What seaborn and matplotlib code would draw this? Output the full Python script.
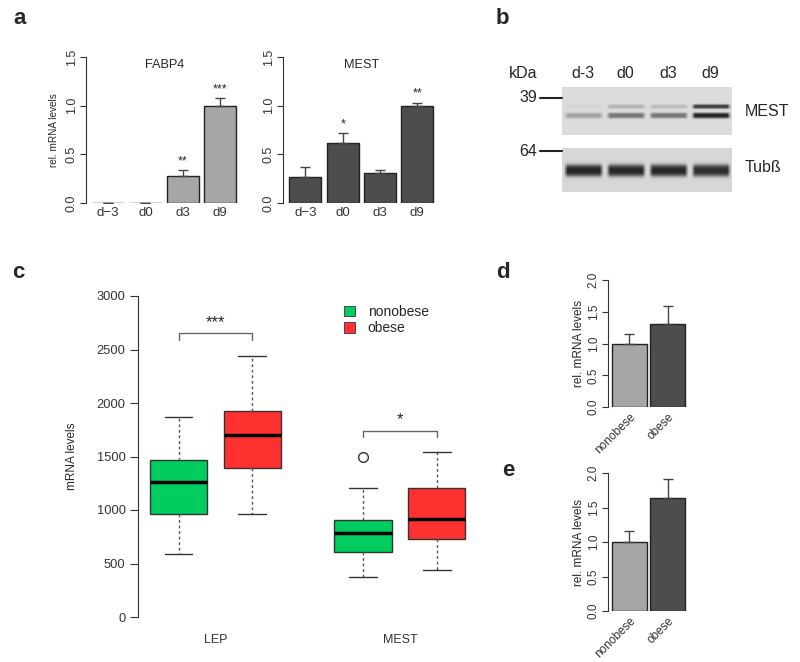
import numpy as np
import matplotlib
matplotlib.use("Agg")
import matplotlib.pyplot as plt
from matplotlib.patches import Patch
import seaborn as sns

# panel a: qPCR during differentiation
days = ["d\u22123", "d0", "d3", "d9"]
fabp4_mean = [0.004, 0.004, 0.28, 1.0]
fabp4_err = [0.0, 0.0, 0.06, 0.08]
fabp4_sig = ["", "", "**", "***"]
mest_mean = [0.265, 0.615, 0.305, 1.0]
mest_err = [0.10, 0.10, 0.03, 0.03]
mest_sig = ["", "*", "", "**"]

# panel b: western blot band intensities (0..1)
blot_lanes = ["d-3", "d0", "d3", "d9"]
mest_lower_band = [0.30, 0.55, 0.55, 1.0]
mest_upper_band = [0.04, 0.22, 0.17, 0.85]
tub_band = [0.97, 0.95, 0.95, 0.92]

# panel c: boxplot summaries
genes = ["LEP", "MEST"]
groups = ["nonobese", "obese"]
box_q1 = [960, 1395, 605, 726]
box_med = [1265, 1700, 782, 913]
box_q3 = [1470, 1925, 909, 1203]
box_lo = [590, 960, 371, 436]
box_hi = [1865, 2440, 1203, 1545]
box_fliers = [[], [], [1493], []]
c_sig = ["***", "*"]
c_bracket = [2650, 1741]

# panels d, e
de_groups = ["nonobese", "obese"]
d_mean = [1.0, 1.30]
d_err = [0.145, 0.29]
e_mean = [1.0, 1.64]
e_err = [0.16, 0.27]

LIGHT = "#a6a6a6"
DARK = "#4d4d4d"
GREEN = "#00cd5e"
RED = "#ff3030"
SPINE = "#333333"

sns.set_style("ticks")
plt.rcParams["font.family"] = ["Liberation Sans", "DejaVu Sans"]
plt.rcParams["axes.edgecolor"] = SPINE
plt.rcParams["xtick.color"] = SPINE
plt.rcParams["ytick.color"] = SPINE

W, H = 800, 662
fig = plt.figure(figsize=(8, 6.62), dpi=100)


def px(l, t, r, b):
    return [l / W, 1 - b / H, (r - l) / W, (b - t) / H]


def bar_panel(ax, labels, means, errs, color, ylim, yticks, xlim, width,
              tick_fs, rot=0):
    sns.barplot(x=labels, y=means, color=color, saturation=1, width=width,
                edgecolor="#222222", linewidth=1.0, ax=ax)
    ax.errorbar(range(len(means)), means, yerr=[np.zeros(len(errs)), errs],
                fmt="none", ecolor="#444444", elinewidth=1.0, capsize=3.5,
                capthick=1.0)
    ax.set_ylim(*ylim)
    ax.set_xlim(*xlim)
    ax.set_yticks(yticks)
    ax.set_yticklabels([f"{t:.1f}" for t in yticks], rotation=90,
                       va="center", fontsize=tick_fs)
    sns.despine(ax=ax, bottom=True)
    ax.spines["left"].set_bounds(yticks[0], yticks[-1])
    ax.tick_params(axis="x", length=0, pad=3)
    ax.tick_params(axis="y", length=4, width=0.8, pad=2)
    ax.set_xlabel("")
    if rot:
        ax.set_xticks(range(len(labels)))
        ax.set_xticklabels(labels, rotation=rot, ha="right",
                           rotation_mode="anchor", fontsize=tick_fs)


# ---- panel a ----
ax_f = fig.add_axes(px(86, 57, 239, 203))
bar_panel(ax_f, days, fabp4_mean, fabp4_err, LIGHT, (0, 1.5),
          [0, 0.5, 1.0, 1.5], (-0.587, 3.5), 0.853, 9)
ax_f.tick_params(axis="x", labelsize=9.5)
ax_f.set_ylabel("rel. mRNA levels", fontsize=7.2)
ax_f.yaxis.set_label_coords(-0.176, 0.5)
ax_f.text(1.5, 1.42, "FABP4", ha="center", va="center", fontsize=9.2)
for i, s in enumerate(fabp4_sig):
    if s:
        ax_f.text(i, fabp4_mean[i] + fabp4_err[i] + 0.03, s, ha="center",
                  va="bottom", fontsize=9)

ax_m = fig.add_axes(px(283, 57, 436, 203))
bar_panel(ax_m, days, mest_mean, mest_err, DARK, (0, 1.5),
          [0, 0.5, 1.0, 1.5], (-0.6, 3.5), 0.853, 9)
ax_m.tick_params(axis="x", labelsize=9.5)
ax_m.set_ylabel("")
ax_m.text(1.5, 1.42, "MEST", ha="center", va="center", fontsize=9.2)
for i, s in enumerate(mest_sig):
    if s:
        ax_m.text(i, mest_mean[i] + mest_err[i] + 0.03, s, ha="center",
                  va="bottom", fontsize=9)


# ---- panel b: western blot ----
def blot_image(bands, h, w, bg=0.86):
    yy, xx = np.mgrid[0:h, 0:w]
    img = np.full((h, w), bg)
    lane_w = w / len(blot_lanes)
    for y0, sy, vals in bands:
        for i, v in enumerate(vals):
            cx = (i + 0.5) * lane_w
            hx = np.clip((lane_w * 0.47 - np.abs(xx - cx)) / 4.0, 0, 1)
            vy = np.exp(-np.abs((yy - y0) / sy) ** 3)
            img -= v * 0.72 * hx * vy
    return np.clip(img, 0, 1)


ax_b1 = fig.add_axes(px(562, 87, 732, 135))
ax_b1.imshow(blot_image([(19, 2.2, mest_upper_band), (28, 2.8, mest_lower_band)],
                        48, 170), cmap="gray", vmin=0, vmax=1, aspect="auto",
             interpolation="bilinear")
ax_b1.axis("off")
ax_b2 = fig.add_axes(px(562, 148, 732, 192))
ax_b2.imshow(blot_image([(22, 6.0, tub_band)], 44, 170, bg=0.84), cmap="gray",
             vmin=0, vmax=1, aspect="auto", interpolation="bilinear")
ax_b2.axis("off")

fig.text(523 / W, 1 - 73 / H, "kDa", ha="center", va="center", fontsize=11.5)
for i, lane in enumerate(blot_lanes):
    fig.text((583 + i * 42.5) / W, 1 - 73 / H, lane, ha="center",
             va="center", fontsize=11.5)
for lab, yy in [("39", 98), ("64", 151)]:
    fig.text(537 / W, 1 - yy / H, lab, ha="right", va="center", fontsize=11.5)
    fig.add_artist(plt.Line2D([540 / W, 562 / W], [1 - yy / H, 1 - yy / H],
                              color="#222222", lw=1.5))
fig.text(745 / W, 1 - 112 / H, "MEST", ha="left", va="center", fontsize=11.5)
fig.text(745 / W, 1 - 168 / H, "Tub\u00df", ha="left", va="center",
         fontsize=11.5)

# ---- panel c: boxplot ----
ax_c = fig.add_axes(px(138, 296, 492, 617))
positions = [0.8, 1.2, 1.8, 2.2]
stats = []
for i in range(4):
    stats.append(dict(med=box_med[i], q1=box_q1[i], q3=box_q3[i],
                      whislo=box_lo[i], whishi=box_hi[i],
                      fliers=box_fliers[i]))
bp = ax_c.bxp(stats, positions=positions, widths=0.31, capwidths=0.15,
              patch_artist=True,
              boxprops=dict(edgecolor="#333333", linewidth=1.0),
              medianprops=dict(color="black", linewidth=2.5),
              whiskerprops=dict(color="#555555", linewidth=1.0,
                                linestyle=(0, (2, 2))),
              capprops=dict(color="#333333", linewidth=1.0),
              flierprops=dict(marker="o", markerfacecolor="none",
                              markeredgecolor="#333333", markersize=7))
for patch, col in zip(bp["boxes"], [GREEN, RED, GREEN, RED]):
    patch.set_facecolor(col)
ax_c.set_xlim(0.58, 2.5)
ax_c.set_ylim(0, 3000)
ax_c.set_yticks(range(0, 3001, 500))
ax_c.set_xticks([1, 2])
ax_c.set_xticklabels(genes, fontsize=9)
ax_c.tick_params(axis="x", length=0, pad=12)
ax_c.tick_params(axis="y", length=6, width=0.8, labelsize=9.3, pad=3)
sns.despine(ax=ax_c, bottom=True)
ax_c.set_ylabel("mRNA levels", fontsize=8.5)
ax_c.yaxis.set_label_coords(-0.17, 0.5)
for g, (s, yb) in enumerate(zip(c_sig, c_bracket)):
    x1, x2 = g + 0.8, g + 1.2
    ax_c.plot([x1, x1, x2, x2], [yb - 60, yb, yb, yb - 60], color="#666666",
              lw=1.0)
    ax_c.text(g + 1.0, yb + 30, s, ha="center", va="bottom", fontsize=12)
handles = [Patch(facecolor=GREEN, edgecolor="#333333", lw=0.6),
           Patch(facecolor=RED, edgecolor="#333333", lw=0.6)]
fig.legend(handles, groups, loc="upper left",
           bbox_to_anchor=(344 / W, 1 - 305 / H), frameon=False, fontsize=10,
           handlelength=0.8, handleheight=0.8, handletextpad=0.9,
           labelspacing=0.15, borderpad=0, borderaxespad=0)

# ---- panels d and e ----
ax_d = fig.add_axes(px(608, 280, 700, 407))
bar_panel(ax_d, de_groups, d_mean, d_err, LIGHT, (0, 2.0),
          [0, 0.5, 1.0, 1.5, 2.0], (-0.56, 1.85), 0.91, 8.5, rot=45)
for patch, col in zip(ax_d.patches, [LIGHT, DARK]):
    patch.set_facecolor(col)
ax_d.set_ylabel("rel. mRNA levels", fontsize=8.5)
ax_d.yaxis.set_label_coords(-0.25, 0.5)

ax_e = fig.add_axes(px(608, 473, 700, 611))
bar_panel(ax_e, de_groups, e_mean, e_err, LIGHT, (0, 2.0),
          [0, 0.5, 1.0, 1.5, 2.0], (-0.56, 1.85), 0.91, 8.5, rot=45)
for patch, col in zip(ax_e.patches, [LIGHT, DARK]):
    patch.set_facecolor(col)
ax_e.set_ylabel("rel. mRNA levels", fontsize=8.5)
ax_e.yaxis.set_label_coords(-0.25, 0.5)

# panel letters
for lab, x, y in [("a", 20, 18), ("b", 502, 18), ("c", 18, 272),
                  ("d", 503, 272), ("e", 508, 470)]:
    fig.text(x / W, 1 - y / H, lab, ha="center", va="center", fontsize=16,
             fontweight="bold")

fig.savefig("out.png", dpi=100)
